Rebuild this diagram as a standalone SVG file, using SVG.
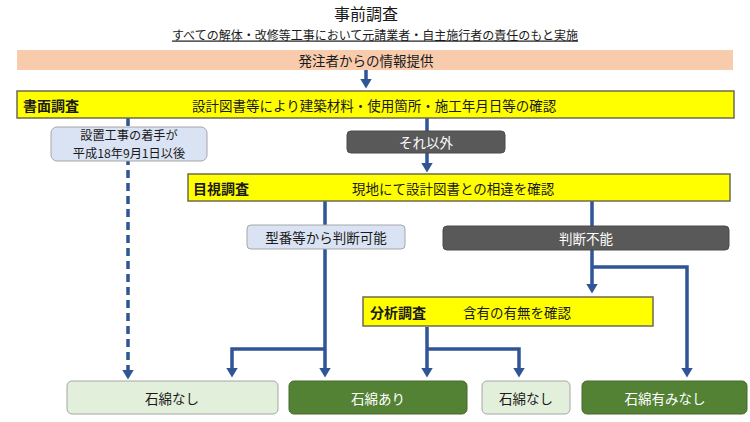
<svg xmlns="http://www.w3.org/2000/svg" width="750" height="422" viewBox="0 0 750 422">
<style>
text{font-family:"Noto Sans CJK JP","Noto Sans",sans-serif;fill:#1a1a1a}
.c{text-anchor:middle;dominant-baseline:central}
.l{dominant-baseline:central}
.b{font-weight:bold}
.w{fill:#ffffff}
.f13{font-size:13.5px}
.f14{font-size:14px}
.yel{fill:#ffff00;stroke:#6f6b4f;stroke-width:1.5}
.lb{fill:#dae3f3;stroke:#a6a6a6;stroke-width:1}
.dk{fill:#595959;stroke:#4a4a4a;stroke-width:1}
.lg{fill:#e2efda;stroke:#a6a6a6;stroke-width:1}
.dg{fill:#548235;stroke:#44692b;stroke-width:1}
.cn{fill:none;stroke:#2f5597;stroke-width:3.5}
</style>
<defs>
<marker id="ah" markerUnits="userSpaceOnUse" markerWidth="10" markerHeight="12" viewBox="0 0 10 12" refX="0.5" refY="6" orient="auto">
<path d="M0,0 L10,6 L0,12 z" fill="#2f5597"/>
</marker>
</defs>
<rect width="750" height="422" fill="#ffffff"/>
<g id="title">
<text class="c" x="366" y="13" style="font-size:16px">事前調査</text>
<text class="c" x="375" y="34" style="font-size:12px;text-decoration:underline">すべての解体・改修等工事において元請業者・自主施行者の責任のもと実施</text>
</g>
<g id="connectors">
<path class="cn" d="M366,70 V79" marker-end="url(#ah)"/>
<path class="cn" d="M128,118 V370" stroke-dasharray="8,5" marker-end="url(#ah)"/>
<path class="cn" d="M427,118 V163" marker-end="url(#ah)"/>
<path class="cn" d="M325,201 V368" marker-end="url(#ah)"/>
<path class="cn" d="M325,349 H232 V368" marker-end="url(#ah)"/>
<path class="cn" d="M592,201 V284" marker-end="url(#ah)"/>
<path class="cn" d="M592,267 H687 V368" marker-end="url(#ah)"/>
<path class="cn" d="M427,327 V368" marker-end="url(#ah)"/>
<path class="cn" d="M427,349 H519 V368" marker-end="url(#ah)"/>
</g>
<g id="info">
<rect x="17" y="50" width="716" height="20" fill="#f8cbad"/>
<text class="c f13" x="366" y="60">発注者からの情報提供</text>
</g>
<g id="shomen">
<rect class="yel" x="17" y="91" width="717" height="27"/>
<text class="l b f14" x="23" y="104.5">書面調査</text>
<text class="l f13" x="192" y="104.5">設計図書等により建築材料・使用箇所・施工年月日等の確認</text>
</g>
<g id="setchi">
<rect class="lb" x="51" y="127" width="156" height="34" rx="6"/>
<text class="c" x="129" y="135" style="font-size:12.2px">設置工事の着手が</text>
<text class="c" x="129" y="153" style="font-size:12.2px">平成18年9月1日以後</text>
</g>
<g id="soreigai">
<rect class="dk" x="347" y="131" width="158" height="22" rx="4"/>
<text class="c f13 w" x="426" y="142">それ以外</text>
</g>
<g id="mokushi">
<rect class="yel" x="188" y="174" width="542" height="27"/>
<text class="l b f14" x="193" y="187.5">目視調査</text>
<text class="l f13" x="352" y="187.5">現地にて設計図書との相違を確認</text>
</g>
<g id="kataban">
<rect class="lb" x="247" y="225" width="158" height="24" rx="4"/>
<text class="c f13" x="326" y="237">型番等から判断可能</text>
</g>
<g id="funo">
<rect class="dk" x="443" y="226" width="286" height="24" rx="4"/>
<text class="c f13 w" x="586" y="238">判断不能</text>
</g>
<g id="bunseki">
<rect class="yel" x="363" y="297" width="290" height="29"/>
<text class="l b f14" x="370" y="311.5">分析調査</text>
<text class="l f13" x="463" y="311.5">含有の有無を確認</text>
</g>
<g id="nashi1">
<rect class="lg" x="67" y="381" width="211" height="33" rx="5"/>
<text class="c f13" x="172" y="397.5">石綿なし</text>
</g>
<g id="ari">
<rect class="dg" x="289" y="381" width="178" height="33" rx="5"/>
<text class="c f13 w" x="378" y="397.5">石綿あり</text>
</g>
<g id="nashi2">
<rect class="lg" x="482" y="381" width="88" height="33" rx="5"/>
<text class="c f13" x="526" y="397.5">石綿なし</text>
</g>
<g id="minashi">
<rect class="dg" x="582" y="381" width="165" height="33" rx="5"/>
<text class="c f13 w" x="665" y="397.5">石綿有みなし</text>
</g>
</svg>
